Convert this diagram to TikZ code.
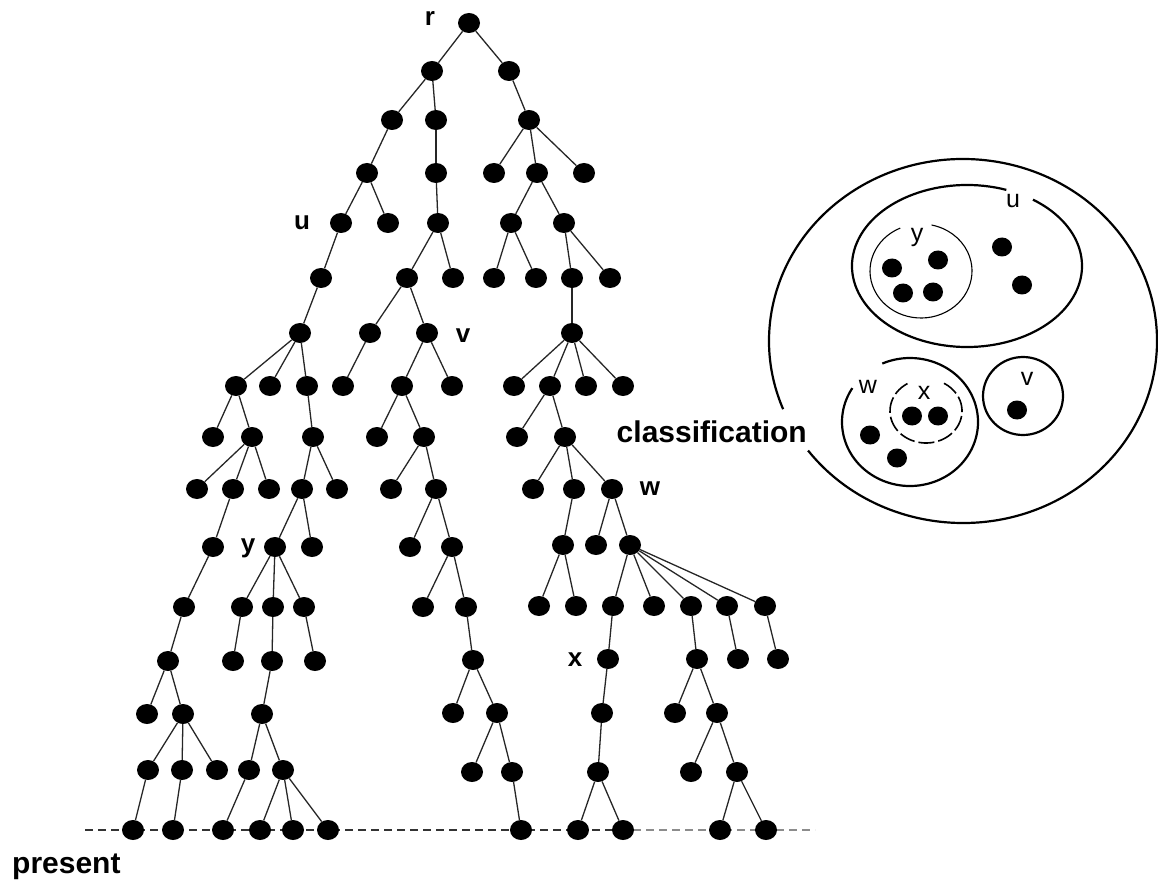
\documentclass[tikz,border=0pt]{standalone}
\usepackage{fontspec}
\setmainfont{Liberation Sans}
\usetikzlibrary{shapes.geometric}
\tikzset{
  taxon/.style={ellipse, fill=black, inner sep=0pt, minimum width=22pt, minimum height=20pt},
  member/.style={ellipse, fill=black, inner sep=0pt, minimum width=20pt, minimum height=19pt},
  branch/.style={line width=1.3pt, black!85},
  treetag/.style={font=\fontsize{26}{28}\selectfont\bfseries, inner sep=0pt},
  ringtag/.style={font=\fontsize{25}{27}\selectfont, inner sep=0pt},
  caption/.style={font=\fontsize{30}{32}\selectfont\bfseries, inner sep=0pt},
  ring/.style={line width=2.2pt},
  thinring/.style={line width=1.1pt},
  dashring/.style={line width=1.6pt, dash pattern=on 16pt off 4pt},
  timeln/.style={line width=1.3pt, dash pattern=on 8pt off 5pt},
}
\newcommand{\openring}[6]{%
  \draw[#1] ([shift={(#5:#3pt and #4pt)}]#2) arc[start angle=#5, end angle=#6, x radius=#3pt, y radius=#4pt];
}

\begin{document}
\begin{tikzpicture}[x=1pt, y=-1pt]
  \useasboundingbox (0,0) rectangle (1158,882);
  % the present
  \coordinate (tl) at (85,830);
  \coordinate (tm) at (620,830);
  \coordinate (tr) at (815,830);
  \draw[timeln, black!80] (tl) -- (tm);
  \draw[timeln, black!45] (tm) -- (tr);
  \node[caption, anchor=base west] (present) at (12,873) {present};

  % the tree
  \foreach \n/\x/\y in {r/469/23,
      a1/432/71, a2/509/71,
      b1/392/120, b2/436/120, b3/529/120,
      c1/367/173, c2/436/173, c3/494/173, c4/537/173, c5/584/173,
      d1/341/223, d2/388/223, d3/438/223, d4/511/223, d5/564/223,
      e1/321/278, e2/407/278, e3/453/278, e4/494/278, e5/536/278, e6/572/278, e7/610/278,
      f1/300/333, f2/370/333, f3/427/333, f4/572/333,
      g1/236/386, g2/270/386, g3/307/386, g4/343/386, g5/402/386, g6/452/386,
      g7/514/386, g8/550/386, g9/586/386, g10/623/386,
      h1/213/437, h2/252/437, h3/313/437, h4/377/437, h5/424/437, h6/517/437, h7/565/437,
      i1/197/489, i2/233/489, i3/269/489, i4/302/489, i5/337/489, i6/391/489, i7/436/489,
      i8/533/489, i9/574/489, i10/612/489,
      j1/213/547, j2/275/547, j3/312/547, j4/410/547, j5/452/547, j6/563/545, j7/596/545, j8/630/545,
      k1/184/607, k2/242/607, k3/273/607, k4/304/607, k5/423/607, k6/466/607, k7/539/606,
      k8/576/606, k9/613/606, k10/654/606, k11/691/606, k12/727/606, k13/765/606,
      l1/168/661, l2/233/661, l3/272/661, l4/315/661, l5/473/660, l6/608/659, l7/697/659,
      l8/738/659, l9/778/659,
      m1/147/714, m2/183/714, m3/262/714, m4/453/713, m5/497/713, m6/602/713, m7/675/713, m8/717/713,
      n1/148/770, n2/182/770, n3/217/770, n4/249/770, n5/283/770, n6/472/772, n7/512/772,
      n8/598/772, n9/691/772, n10/737/772,
      o1/133/830, o2/173/830, o3/223/830, o4/260/830, o5/293/830, o6/328/830, o7/521/830,
      o8/578/830, o9/623/830, o10/720/830, o11/766/830}
    \node[taxon] (\n) at (\x,\y) {};
  \foreach \a/\b in {r/a1, r/a2, a1/b1, a1/b2, a2/b3, b1/c1, b2/c2, b3/c3, b3/c4, b3/c5,
      c1/d1, c1/d2, c2/d3, c4/d4, c4/d5, d1/e1, d3/e2, d3/e3, d4/e4, d4/e5, d5/e6, d5/e7,
      e1/f1, e2/f2, e2/f3, e6/f4, f1/g1, f1/g2, f1/g3, f2/g4, f3/g5, f3/g6,
      f4/g7, f4/g8, f4/g9, f4/g10, g1/h1, g1/h2, g3/h3, g5/h4, g5/h5, g8/h6, g8/h7,
      h2/i1, h2/i2, h2/i3, h3/i4, h3/i5, h5/i6, h5/i7, h7/i8, h7/i9, h7/i10,
      i2/j1, i4/j2, i4/j3, i7/j4, i7/j5, i9/j6, i10/j7, i10/j8,
      j1/k1, j2/k2, j2/k3, j2/k4, j5/k5, j5/k6, j6/k7, j6/k8,
      j8/k9, j8/k10, j8/k11, j8/k12, j8/k13,
      k1/l1, k2/l2, k3/l3, k4/l4, k6/l5, k9/l6, k11/l7, k12/l8, k13/l9,
      l1/m1, l1/m2, l3/m3, l5/m4, l5/m5, l6/m6, l7/m7, l7/m8,
      m2/n1, m2/n2, m2/n3, m3/n4, m3/n5, m5/n6, m5/n7, m6/n8, m8/n9, m8/n10,
      n1/o1, n2/o2, n4/o3, n5/o4, n5/o5, n5/o6, n7/o7, n8/o8, n8/o9, n10/o10, n10/o11}
    \draw[branch] (\a) -- (\b);
  \node[treetag] (tagr) at (430,19) {r};
  \node[treetag] (tagu) at (302,223) {u};
  \node[treetag] (tagv) at (463,336) {v};
  \node[treetag] (tagw) at (650,489) {w};
  \node[treetag] (tagy) at (248,548) {y};
  \node[treetag] (tagx) at (575,660) {x};

  % the classification
  \node[caption, anchor=east] (classification) at (807,432) {classification};
  \openring{ring}{963,341}{194}{182}{217}{562}
  \openring{ring}{967,266}{115}{81}{70}{415}
  \openring{thinring}{921,271}{51}{47}{114}{438}
  \openring{ring}{910,422}{68}{64}{148}{474}
  \openring{dashring}{926,411}{36}{32}{121}{420}
  \draw[ring] (1023,396) ellipse [x radius=40pt, y radius=39pt];
  \foreach \n/\x/\y in {py1/892/268, py2/938/260, py3/903/293, py4/933/292,
      pu1/1002/247, pu2/1022/285, px1/912/416, px2/938/416,
      pw1/870/435, pw2/897/458, pv1/1017/410}
    \node[member] (\n) at (\x,\y) {};
  \node[ringtag] (ringu) at (1013,201) {u};
  \node[ringtag] (ringy) at (917,237) {y};
  \node[ringtag] (ringw) at (868,387) {w};
  \node[ringtag] (ringx) at (924,393) {x};
  \node[ringtag] (ringv) at (1027,379) {v};
\end{tikzpicture}
\end{document}
